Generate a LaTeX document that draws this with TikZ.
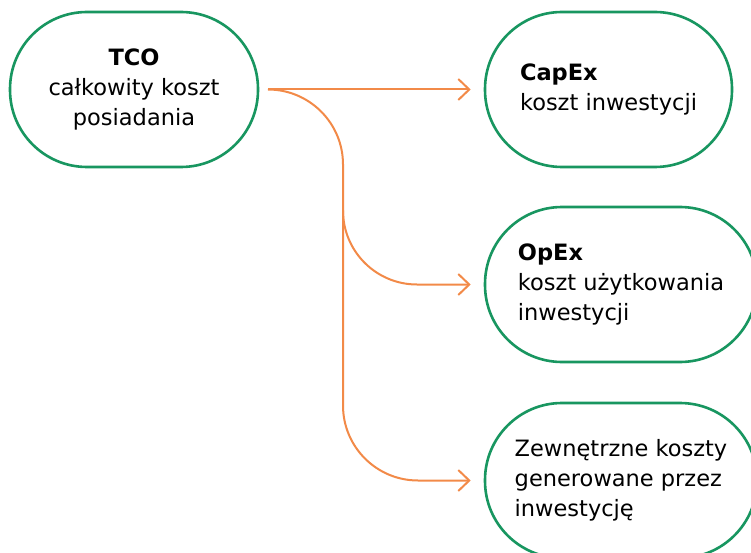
\documentclass[tikz,border=0pt]{standalone}
\usepackage{fontspec}
\setmainfont{DejaVu Sans}
\usetikzlibrary{arrows.meta}
\definecolor{boxgreen}{RGB}{24,150,96}
\definecolor{linkorange}{RGB}{242,138,72}
\begin{document}
\begin{tikzpicture}[x=1pt,y=-1pt,
  pill/.style={draw=boxgreen, line width=2.6pt, fill=white, rectangle,
    rounded corners=77pt, minimum height=155pt, inner sep=0pt,
    font=\fontsize{22.5}{30}\selectfont},
  conn/.style={draw=linkorange, line width=2pt},
  arr/.style={conn, -{Straight Barb[length=11pt,width=21pt,line width=2pt]}}]
\useasboundingbox (0,0) rectangle (751,553);
\node[pill, minimum width=248pt, align=center] (tco) at (134,89.5)
  {\textbf{TCO}\\całkowity koszt\\posiadania};
\node[pill, minimum width=247pt, align=left] (capex) at (608.5,89.5)
  {\textbf{CapEx}\\koszt inwestycji};
\node[pill, minimum width=272pt, align=left] (opex) at (621,284.5)
  {\textbf{OpEx}\\koszt użytkowania\\inwestycji};
\node[pill, minimum width=272pt, align=left] (ext) at (621,480.5)
  {Zewnętrzne koszty\\generowane przez\\inwestycję};
% branching connectors
\coordinate (start) at ([xshift=9pt]tco.east);
\coordinate (spine) at (343,89.5);
\draw[arr] (start) -- ([xshift=-13pt]capex.west);
\draw[arr, rounded corners=75pt] (start) -- (spine) |- ([xshift=-13pt]ext.west);
\draw[arr, rounded corners=74pt] ([yshift=74pt]spine |- opex.west) |- ([xshift=-13pt]opex.west);
\end{tikzpicture}
\end{document}
